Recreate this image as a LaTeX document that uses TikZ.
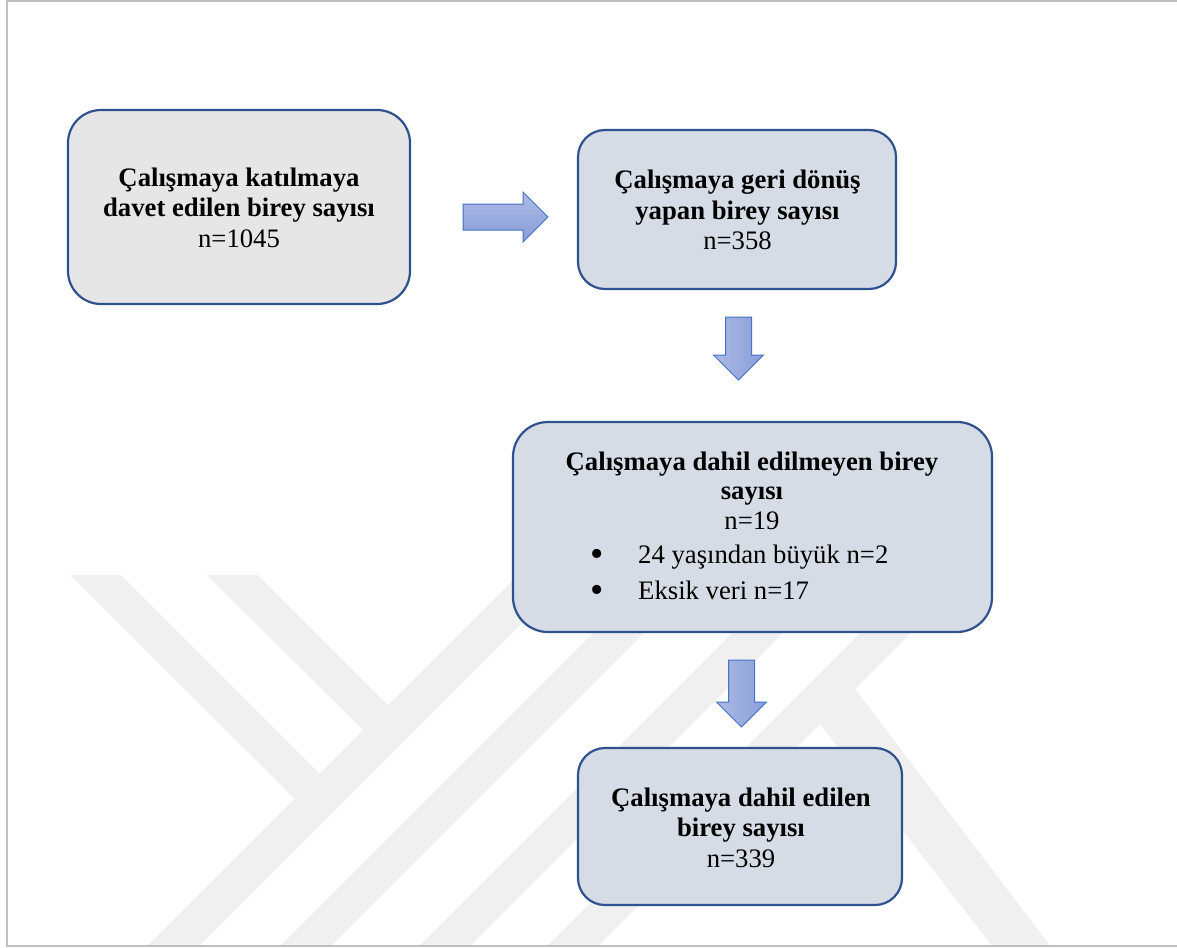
\documentclass[tikz,border=0pt]{standalone}
\usepackage{fontspec}
\setmainfont{Liberation Serif}
\usetikzlibrary{shapes.arrows}
\definecolor{boxline}{RGB}{47,82,143}
\definecolor{boxgray}{RGB}{231,230,230}
\definecolor{boxblue}{RGB}{214,220,229}
\definecolor{arrline}{RGB}{68,114,196}
\definecolor{arrtop}{RGB}{172,186,228}
\definecolor{arrbot}{RGB}{136,158,216}
\definecolor{wmark}{RGB}{240,240,240}
\definecolor{framegray}{RGB}{191,191,191}
\begin{document}
\begin{tikzpicture}[x=1pt,y=-1pt,
  flowbox/.style={draw=boxline, line width=2.2pt, inner sep=0pt},
  txt/.style={inner sep=0pt, anchor=base, font=\fontsize{26.7pt}{30.7pt}\selectfont},
  btxt/.style={txt, font=\fontsize{26.7pt}{30.7pt}\selectfont\bfseries},
  bullet/.style={inner sep=0pt, anchor=base, font=\fontsize{38pt}{40pt}\selectfont},
  blockarrow/.style={single arrow, draw=arrline, line width=1pt, inner sep=12.5pt,
    single arrow head extend=12pt, anchor=tail},
  wmstripe/.style={fill=wmark, draw=none}
]
\useasboundingbox (0,0) rectangle (1177,947);
\fill[white] (0,0) rectangle (1177,947);
% watermark
\fill[wmstripe] (148,945) -- (518,575) -- (570,575) -- (200,945) -- cycle;
\fill[wmstripe] (70,575) -- (121,575) -- (330,784) -- (305,809) -- cycle;
\fill[wmstripe] (207,575) -- (258,575) -- (398,715) -- (373,740) -- cycle;
\fill[wmstripe] (281,945) -- (651,575) -- (702,575) -- (332,945) -- cycle;
\fill[wmstripe] (420,945) -- (790,575) -- (841,575) -- (471,945) -- cycle;
\fill[wmstripe] (548,945) -- (918,575) -- (969,575) -- (599,945) -- cycle;
\fill[wmstripe] (820,724) -- (855,689) -- (1049.5,945) -- (991.5,945) -- cycle;
% frame
\draw[framegray, line width=2pt] (1177,0.8) -- (6.7,0.8) -- (6.7,945.7) -- (1177,945.7);
% boxes
\node[flowbox, fill=boxgray, rounded corners=33pt, minimum width=342pt, minimum height=194pt] (b1) at (239,207) {};
\node[flowbox, fill=boxblue, rounded corners=27pt, minimum width=318pt, minimum height=159pt] (b2) at (737,209.5) {};
\node[flowbox, fill=boxblue, rounded corners=35pt, minimum width=479pt, minimum height=210pt] (b3) at (752.5,527) {};
\node[flowbox, fill=boxblue, rounded corners=27pt, minimum width=324pt, minimum height=157pt] (b4) at (740,826.5) {};
% arrows
\node[blockarrow, top color=arrtop, bottom color=arrbot, minimum height=85pt] (a1) at (462.5,217) {};
\node[blockarrow, rotate=-90, left color=arrtop, right color=arrbot, minimum height=63pt] (a2) at (738.5,316.5) {};
\node[blockarrow, rotate=-90, left color=arrtop, right color=arrbot, minimum height=67pt] (a3) at (741.5,659.5) {};
% texts box 1
\node[btxt] (t1a) at (239,186) {Çalışmaya katılmaya};
\node[btxt] (t1b) at (239,216.7) {davet edilen birey sayısı};
\node[txt] (t1c) at (239,247) {n=1045};
% box 2
\node[btxt] (t2a) at (737.5,188) {Çalışmaya geri dönüş};
\node[btxt] (t2b) at (737.5,219) {yapan birey sayısı};
\node[txt] (t2c) at (737.5,249.5) {n=358};
% box 3
\node[btxt] (t3a) at (752,470) {Çalışmaya dahil edilmeyen birey};
\node[btxt] (t3b) at (752,499.5) {sayısı};
\node[txt] (t3c) at (752,529.5) {n=19};
\node[bullet] (t3d) at (597,566) {•};
\node[txt, anchor=base west] (t3e) at (638,563) {24 yaşından büyük n=2};
\node[bullet] (t3f) at (597,602) {•};
\node[txt, anchor=base west] (t3g) at (638,599) {Eksik veri n=17};
% box 4
\node[btxt] (t4a) at (741,806.7) {Çalışmaya dahil edilen};
\node[btxt] (t4b) at (741,836) {birey sayısı};
\node[txt] (t4c) at (741,867.3) {n=339};
\end{tikzpicture}
\end{document}
